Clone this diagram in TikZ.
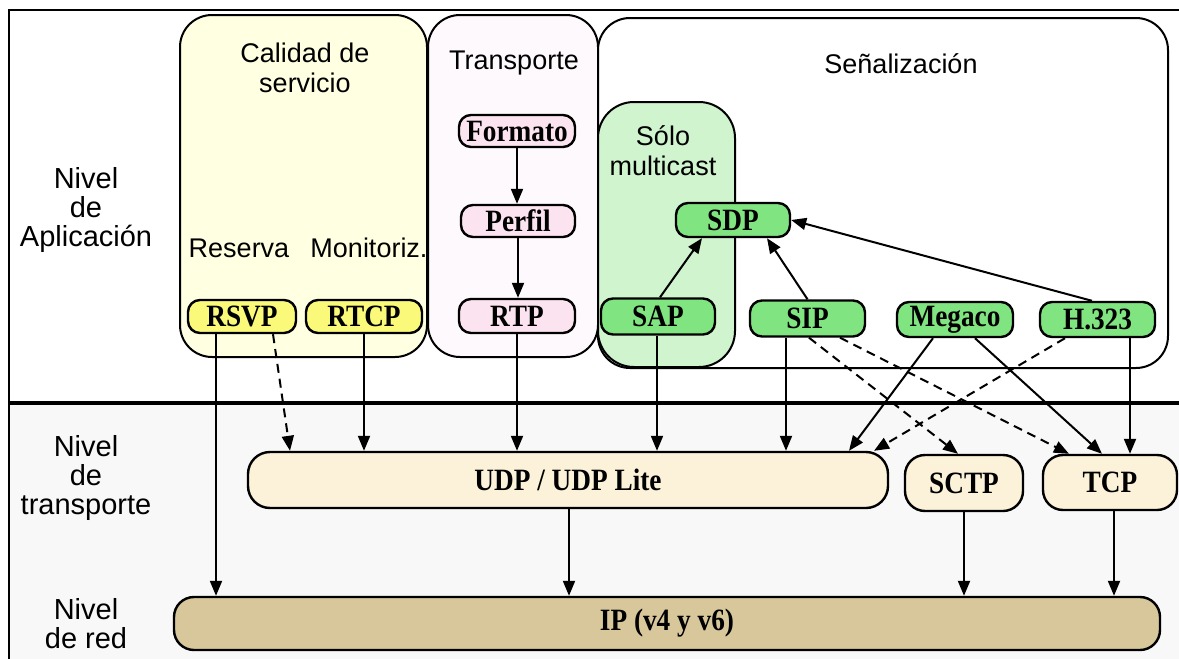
\documentclass[tikz,border=0pt]{standalone}
\usepackage{fontspec}
\setmainfont{Liberation Serif}
\setsansfont{Liberation Sans}
\newfontfamily\condserif[FakeStretch=0.88]{Liberation Serif}
\usetikzlibrary{arrows.meta}
\definecolor{qosfill}{HTML}{FFFFE1}
\definecolor{trfill}{HTML}{FEF9FC}
\definecolor{mcfill}{HTML}{D0F4CE}
\definecolor{ynode}{HTML}{FAF979}
\definecolor{pnode}{HTML}{FBE3EF}
\definecolor{gnode}{HTML}{80E480}
\definecolor{tnode}{HTML}{FBF2D9}
\definecolor{ipfill}{HTML}{D7C79B}
\definecolor{lowbg}{HTML}{F8F8F8}
\begin{document}
\begin{tikzpicture}[x=1pt,y=-1pt,
  bigbox/.style={draw, line width=2pt, rounded corners=32pt, inner sep=0pt},
  pill/.style={draw, line width=2.4pt, rounded corners=12pt, inner sep=0pt,
    font=\condserif\fontsize{31}{31}\selectfont\bfseries},
  tbox/.style={draw, line width=2.4pt, rounded corners=20pt, inner sep=0pt,
    font=\condserif\fontsize{31}{31}\selectfont\bfseries},
  ttl/.style={font=\sffamily\fontsize{27}{30}\selectfont, align=center, inner sep=0pt},
  lvl/.style={font=\sffamily\fontsize{29}{29}\selectfont, align=center, inner sep=0pt},
  arr/.style={line width=2pt, -{Triangle[length=15pt,width=12pt]}},
  dsh/.style={arr, dash pattern=on 9pt off 6pt}
]
\useasboundingbox (0,0) rectangle (1179,659);
\fill[white] (0,0) rectangle (1179,659);
\fill[lowbg] (9,403) rectangle (1179,659);
% frame
\draw[line width=2pt] (9,659) -- (9,10) -- (1179,10);
\draw[line width=4.5pt] (9,403) -- (1179,403);

% big boxes
\node[bigbox, fill=qosfill, minimum width=247pt, minimum height=342pt] (qos) at (303.5,186) {};
\node[bigbox, fill=trfill, minimum width=170pt, minimum height=342pt] (tra) at (513,186) {};
\node[bigbox, fill=white, minimum width=570pt, minimum height=350pt] (sen) at (883,193) {};
\node[bigbox, fill=mcfill, rounded corners=36pt, minimum width=137pt, minimum height=265pt] (mc) at (666.5,234.5) {};

% titles
\node[ttl] (tqos) at (305,68) {Calidad de\\servicio};
\node[ttl] (ttra) at (514,63) {Transporte};
\node[ttl] (tsen) at (901,64) {Señalización};
\node[ttl] (tmc) at (663,151) {Sólo\\multicast};
\node[ttl] (tres) at (239,248) {Reserva};
\node[ttl] (tmon) at (369,248) {Monitoriz.};

% level labels
\node[lvl] (lapp) at (86,210) {Nivel\\de\\Aplicación};
\node[lvl] (ltra) at (86,478) {Nivel\\de\\transporte};
\node[lvl] (lred) at (86,624) {Nivel\\de red};

% application nodes
\node[pill, fill=ynode, minimum width=108pt, minimum height=33pt] (rsvp) at (242,316.5) {RSVP};
\node[pill, fill=ynode, minimum width=116pt, minimum height=33pt] (rtcp) at (364,316.5) {RTCP};
\node[pill, fill=pnode, minimum width=116pt, minimum height=32pt] (fmt) at (517,131) {Formato};
\node[pill, fill=pnode, minimum width=114pt, minimum height=32pt] (prf) at (518,221) {Perfil};
\node[pill, fill=pnode, minimum width=116pt, minimum height=34pt] (rtp) at (517,316) {RTP};
\node[pill, fill=gnode, minimum width=114pt, minimum height=34pt] (sdp) at (733,220) {SDP};
\node[pill, fill=gnode, minimum width=114pt, minimum height=36pt] (sap) at (658,316.5) {SAP};
\node[pill, fill=gnode, minimum width=115pt, minimum height=36pt] (sip) at (807.5,318.5) {SIP};
\node[pill, fill=gnode, minimum width=116pt, minimum height=35pt] (meg) at (955,319.5) {Megaco};
\node[pill, fill=gnode, minimum width=115pt, minimum height=35pt] (h323) at (1097.5,319.5) {H.323};

% transport nodes
\node[tbox, fill=tnode, rounded corners=22pt, minimum width=640pt, minimum height=56pt] (udp) at (568,480) {UDP / UDP Lite};
\node[tbox, fill=tnode, minimum width=118pt, minimum height=56pt] (sctp) at (964,483) {SCTP};
\node[tbox, fill=tnode, minimum width=134pt, minimum height=55pt] (tcp) at (1110,482.5) {TCP};
\node[tbox, fill=ipfill, minimum width=986pt, minimum height=53pt] (ip) at (667,623.5) {IP (v4 y v6)};

% arrows: transporte column
\draw[arr] (fmt.south) -- (fmt.south |- prf.north);
\draw[arr] (prf.south) -- (prf.south |- rtp.north);
% signalling to SDP
\draw[arr] ([xshift=2pt]sap.north) -- ([xshift=-31pt]sdp.south);
\draw[arr] (sip.north) -- ([xshift=34pt]sdp.south);
\draw[arr] ([xshift=-5.5pt]h323.north) -- (sdp.east);
% down to transport
\draw[arr] ([xshift=-26pt]rsvp.south) -- ([xshift=-451pt]ip.north);
\draw[dsh] ([xshift=31pt]rsvp.south) -- ([xshift=-278pt]udp.north);
\draw[arr] (rtcp.south) -- ([xshift=-204pt]udp.north);
\draw[arr] (rtp.south) -- ([xshift=-51pt]udp.north);
\draw[arr] ([xshift=-1pt]sap.south) -- ([xshift=89pt]udp.north);
\draw[arr] ([xshift=-21.5pt]sip.south) -- ([xshift=218pt]udp.north);
\draw[dsh] ([xshift=1.5pt]sip.south) -- ([xshift=-6pt]sctp.north);
\draw[dsh] ([xshift=32.5pt]sip.south) -- ([xshift=-41pt]tcp.north);
\draw[arr] ([xshift=-22pt]meg.south) -- ([xshift=281pt]udp.north);
\draw[arr] ([xshift=20pt]meg.south) -- ([xshift=-8pt]tcp.north);
\draw[dsh] ([xshift=-32.5pt]h323.south) -- ([xshift=306pt]udp.north);
\draw[arr] ([xshift=32.5pt]h323.south) -- ([xshift=20pt]tcp.north);
% down to IP
\draw[arr] ([xshift=1pt]udp.south) -- ([xshift=-98pt]ip.north);
\draw[arr] (sctp.south) -- ([xshift=297pt]ip.north);
\draw[arr] ([xshift=4pt]tcp.south) -- ([xshift=447pt]ip.north);
\end{tikzpicture}
\end{document}
